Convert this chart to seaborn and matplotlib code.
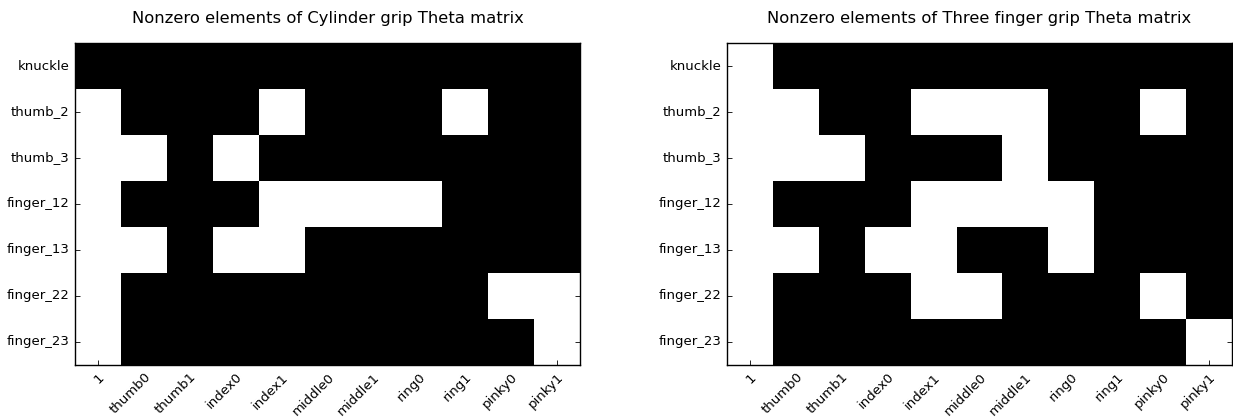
import matplotlib
matplotlib.use("Agg")
import matplotlib.pyplot as plt
import seaborn as sns
import numpy as np

# row / column labels of the Theta matrices
rows = ["knuckle", "thumb_2", "thumb_3", "finger_12", "finger_13", "finger_22", "finger_23"]
cols = ["1", "thumb0", "thumb1", "index0", "index1", "middle0", "middle1",
        "ring0", "ring1", "pinky0", "pinky1"]

# 1 = nonzero element (black), 0 = zero (white)
cylinder = [
    [1, 1, 1, 1, 1, 1, 1, 1, 1, 1, 1],
    [0, 1, 1, 1, 0, 1, 1, 1, 0, 1, 1],
    [0, 0, 1, 0, 1, 1, 1, 1, 1, 1, 1],
    [0, 1, 1, 1, 0, 0, 0, 0, 1, 1, 1],
    [0, 0, 1, 0, 0, 1, 1, 1, 1, 1, 1],
    [0, 1, 1, 1, 1, 1, 1, 1, 1, 0, 0],
    [0, 1, 1, 1, 1, 1, 1, 1, 1, 1, 0],
]
three_finger = [
    [0, 1, 1, 1, 1, 1, 1, 1, 1, 1, 1],
    [0, 0, 1, 1, 0, 0, 0, 1, 1, 0, 1],
    [0, 0, 0, 1, 1, 1, 0, 1, 1, 1, 1],
    [0, 1, 1, 1, 0, 0, 0, 0, 1, 1, 1],
    [0, 0, 1, 0, 0, 1, 1, 0, 1, 1, 1],
    [0, 1, 1, 1, 0, 0, 1, 1, 1, 0, 1],
    [0, 1, 1, 1, 1, 1, 1, 1, 1, 1, 0],
]
titles = ["Nonzero elements of Cylinder grip Theta matrix",
          "Nonzero elements of Three finger grip Theta matrix"]

W, H = 1233, 417
fig = plt.figure(figsize=(W / 100, H / 100), dpi=100)
ax1 = fig.add_axes([75 / W, 52 / H, 505 / W, 322 / H])
ax2 = fig.add_axes([727 / W, 52 / H, 505 / W, 322 / H])

for ax, mat, title in zip([ax1, ax2], [cylinder, three_finger], titles):
    sns.heatmap(np.array(mat), cmap="binary", vmin=0, vmax=1, cbar=False,
                xticklabels=cols, yticklabels=rows, ax=ax)
    ax.set_title(title, fontsize=11.8, pad=14.5)
    for s in ax.spines.values():
        s.set_visible(True)
        s.set_color("black")
        s.set_linewidth(1.0)
    ax.tick_params(axis="both", direction="in", length=3.5, width=0.6,
                   color="black", labelsize=9.5, pad=4)
    ax.tick_params(axis="y", right=True)
    plt.setp(ax.get_xticklabels(), rotation=45, ha="right", va="top",
             rotation_mode="anchor")
    plt.setp(ax.get_yticklabels(), rotation=0)

fig.savefig("out.png", dpi=100)
